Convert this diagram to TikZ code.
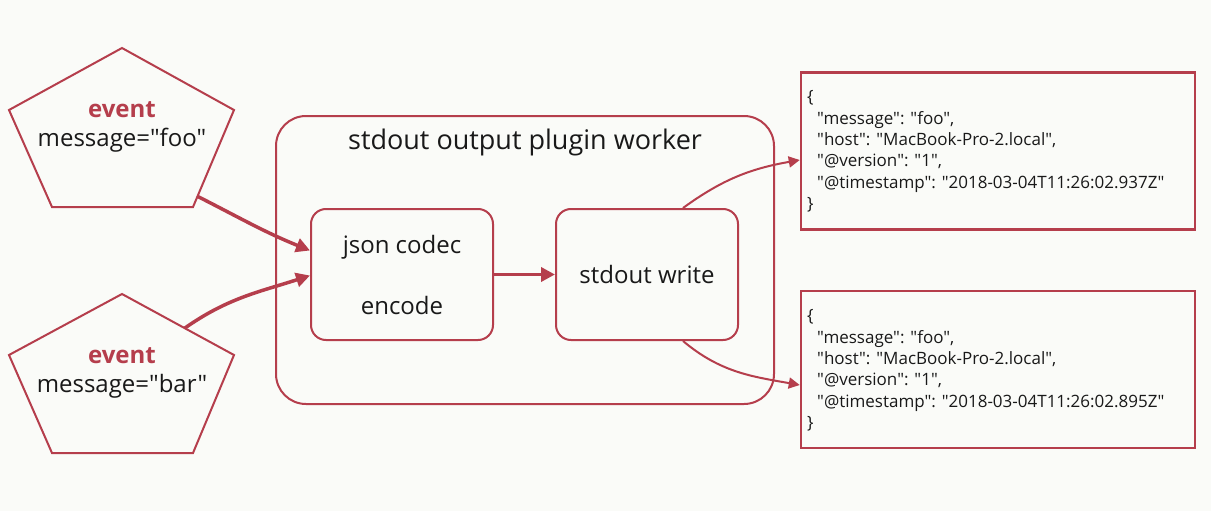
\documentclass[tikz,border=0pt]{standalone}
\usepackage{fontspec}
\setmainfont{Open Sans}[Ligatures=TeXOff]
\usetikzlibrary{arrows.meta,calc}
\definecolor{rd}{RGB}{181,62,76}
\definecolor{bg}{RGB}{250,251,248}
\definecolor{ink}{RGB}{25,25,25}
\tikzset{
  evshape/.style={draw=rd, line width=2pt, line join=miter},
  boxr/.style={draw=rd, line width=2pt, rounded corners=15pt, minimum width=182pt, minimum height=131pt, text=ink, font=\fontsize{24}{61}\selectfont, align=center},
  jsonbox/.style={draw=rd, line width=2.5pt, minimum width=394pt, minimum height=157pt},
  jsontext/.style={text=ink, font=\fontsize{17}{21.4}\selectfont, align=left, inner sep=0pt, anchor=west},
  thickarr/.style={draw=rd, line width=3.5pt, -{Triangle[length=14pt,width=14pt]}},
  thinarr/.style={draw=rd, line width=2pt, -{Triangle[length=11pt,width=11pt]}},
}
\begin{document}
\begin{tikzpicture}[x=1pt,y=1pt]
\fill[bg] (0,0) rectangle (1211,-511);
\useasboundingbox (0,0) rectangle (1211,-511);

% event pentagons
\draw[evshape] (122,-48) coordinate (p1t) -- (234,-110) coordinate (p1r) -- (193,-207) coordinate (p1br) -- (52,-207) coordinate (p1bl) -- (9,-110) coordinate (p1l) -- cycle;
\node[text=rd, font=\fontsize{24}{28}\selectfont\bfseries] (ev1) at (122,-110) {event};
\node[text=ink, font=\fontsize{24}{28}\selectfont] (m1) at (122,-140) {message="foo"};

\draw[evshape] (122,-294) coordinate (p2t) -- (234,-355) coordinate (p2r) -- (193,-453) coordinate (p2br) -- (52,-453) coordinate (p2bl) -- (9,-355) coordinate (p2l) -- cycle;
\node[text=rd, font=\fontsize{24}{28}\selectfont\bfseries] (ev2) at (122,-356) {event};
\node[text=ink, font=\fontsize{24}{28}\selectfont] (m2) at (122,-386) {message="bar"};

\coordinate (p1a) at ($(p1r)!0.89!(p1br)$);
\coordinate (p2a) at ($(p2t)!0.56!(p2r)$);

% worker container
\node[draw=rd, line width=2pt, rounded corners=30pt, minimum width=498pt, minimum height=288pt] (worker) at (525,-260) {};
\node[text=ink, font=\fontsize{27}{31}\selectfont] (title) at (525,-142) {stdout output plugin worker};

\node[boxr] (json) at (402,-274.5) {json codec\\encode};
\node[boxr] (stdw) at (647,-274.5) {stdout write};

% json outputs
\node[jsonbox] (j1) at (998,-151) {};
\node[jsontext] (t1) at (807,-151.5) {\{\\\hspace*{10pt}"message": "foo",\\\hspace*{10pt}"host": "MacBook-Pro-2.local",\\\hspace*{10pt}"@version": "1",\\\hspace*{10pt}"@timestamp": "2018-03-04T11:26:02.937Z"\\\}};
\node[jsonbox] (j2) at (998,-369.5) {};
\node[jsontext] (t2) at (807,-370.5) {\{\\\hspace*{10pt}"message": "foo",\\\hspace*{10pt}"host": "MacBook-Pro-2.local",\\\hspace*{10pt}"@version": "1",\\\hspace*{10pt}"@timestamp": "2018-03-04T11:26:02.895Z"\\\}};

% connectors
\draw[thickarr] (p1a) to[out=-27,in=158] ([yshift=24pt]json.west);
\draw[thickarr] (p2a) to[out=35,in=198] ([yshift=-1pt]json.west);
\draw[thickarr] (json.east) -- (stdw.west);
\draw[thinarr] ([xshift=36pt]stdw.north) to[out=36,in=190] ([yshift=-9pt]j1.west);
\draw[thinarr] ([xshift=36pt]stdw.south) to[out=-40,in=170] ([yshift=-15.5pt]j2.west);
\end{tikzpicture}
\end{document}
